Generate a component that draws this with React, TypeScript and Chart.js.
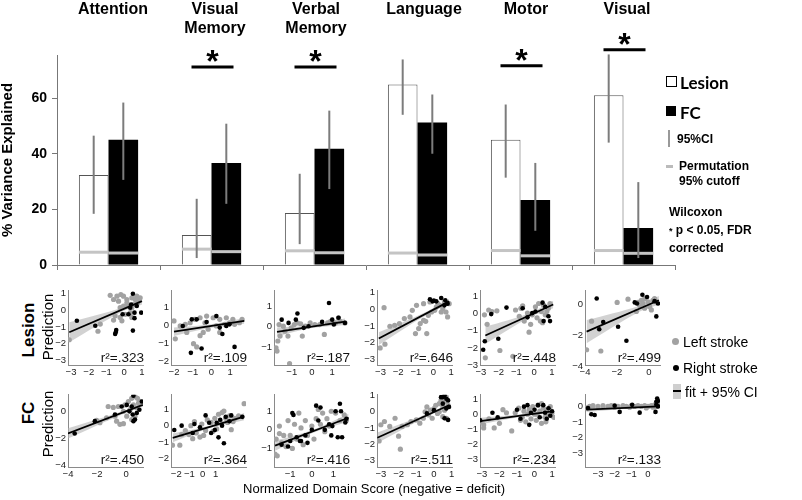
import React, { useEffect, useRef } from "react";
import { Chart, registerables } from "chart.js";
Chart.register(...registerables);

const FONT = "'Liberation Sans', Arial, Helvetica, sans-serif";

// ---------------- Top bar chart data ----------------
const domainLabels = ["Attention", "Visual Memory", "Verbal Memory", "Language", "Motor", "Visual"];
const domainTitleLines = [["Attention"], ["Visual", "Memory"], ["Verbal", "Memory"], ["Language"], ["Motor"], ["Visual"]];
const lesionVariance = [32.4, 10.8, 18.7, 64.9, 45.0, 61.0];
const fcVariance = [45.0, 36.7, 41.8, 51.2, 23.4, 13.3];
const lesionCILow = [18.4, 2.5, 7.5, 54.0, 31.4, 44.0];
const lesionCIHigh = [46.5, 23.8, 32.8, 73.9, 57.7, 75.7];
const fcCILow = [30.6, 22.0, 27.3, 40.0, 12.3, 2.5];
const fcCIHigh = [58.4, 50.8, 55.5, 61.3, 36.7, 29.8];
const lesionCutoff = [4.6, 5.7, 5.1, 4.3, 5.2, 5.2];
const fcCutoff = [4.3, 4.8, 4.4, 3.6, 3.3, 4.2];
const sigLevel = [null, 71.2, 71.2, null, 71.6, 77.4];
const yTicksTop = [0, 20, 40, 60];

// ---------------- Scatter data (Lesion row) ----------------
type P = [number, number];
const lesionAttentionLeft: P[] = [[-3.1,-1.77],[-1.35,-0.83],[-1.48,-1.26],[-0.79,0.9],[-0.6,0.65],[-0.41,0.85],[-0.19,0.95],[-0.04,0.85],[-0.32,0.55],[0.15,0.65],[0.43,0.75],[0.62,0.65],[0.71,0.85],[0.81,0.7],[0.24,0.26],[0.43,0.16],[0.53,0.35],[-0.23,0.16],[-0.04,0.26],[-0.51,-0.33],[-0.23,-0.43],[0.06,-0.24],[0.34,-0.14],[-0.13,-0.63],[0.43,-0.43],[-0.6,-0.59],[0.15,0.45],[0.75,0.45],[0.9,0.75]];
const lesionAttentionRight: P[] = [[-2.67,-0.63],[-1.63,-0.93],[-0.45,-1.18],[-0.51,-1.42],[-0.47,-1.3],[0.49,1.0],[0.34,0.16],[-0.09,-0.24],[0.24,-0.24],[0.58,-0.47],[0.49,-1.22],[0.96,-0.14],[0.58,-0.14],[0.39,0.35],[0.71,0.26]];
const lesionVisMemLeft: P[] = [[-2.0,0.24],[-1.93,-0.76],[-1.67,-0.04],[-1.4,0.05],[-1.14,0.14],[-0.88,0.33],[-0.61,0.42],[-0.26,0.51],[0.09,0.42],[0.44,0.33],[0.79,0.42],[1.14,0.33],[1.49,0.14],[1.63,0.33],[-0.96,-1.03],[-0.79,-1.21],[-0.61,-0.58],[-0.44,-0.4],[-0.18,-0.22],[0.26,-0.04],[0.44,-0.4],[0.7,0.05],[0.96,0.14],[-0.35,0.14],[-1.32,-0.4],[1.23,0.05]];
const lesionVisMemRight: P[] = [[-1.53,-0.04],[-0.79,0.33],[-1.1,-1.54],[-0.53,-1.3],[-0.26,0.18],[0.26,0.51],[0.44,-0.13],[0.58,-0.49],[0.79,-0.04],[1.23,-1.21],[0.96,0.05],[-1.05,0.33]];
const lesionVerbMemLeft: P[] = [[-1.78,-1.02],[-1.73,-1.18],[-1.69,-0.69],[-1.58,-0.45],[-1.63,0.11],[-1.42,0.03],[-1.19,-0.45],[-1.11,-1.79],[-0.88,0.11],[-0.72,0.19],[-0.56,0.15],[-0.48,-0.45],[-0.09,0.19],[0.14,0.11],[0.38,0.11],[0.61,-0.37],[0.77,0.19],[0.92,0.27],[1.16,0.19],[1.39,0.27],[1.63,0.19],[-0.33,0.03],[-1.34,-0.21],[1.31,0.44],[-1.03,-0.05]];
const lesionVerbMemRight: P[] = [[-1.5,0.35],[-1.16,0.19],[-0.72,0.65],[-0.8,0.35],[-0.41,-0.05],[0.5,0.24],[0.84,1.16],[1.0,0.35],[1.31,0.44],[1.63,0.19],[1.08,0.11],[-0.17,0.03]];
const lesionLanguageLeft: P[] = [[-3.02,-2.32],[-2.75,-2.1],[-2.8,0.1],[-2.47,-1.02],[-2.2,-0.96],[-1.93,-0.86],[-1.65,-0.56],[-1.33,-0.46],[-1.2,-0.06],[-0.96,0.24],[-0.84,-1.16],[-0.75,-0.86],[-0.56,-0.66],[-1.02,-1.46],[-0.38,-1.46],[-0.44,-0.72],[-0.29,-0.36],[-0.2,0.44],[0.16,0.14],[0.35,0.24],[0.53,0.04],[0.71,-0.16],[0.8,-0.46],[0.25,0.34],[0.62,0.44],[0.07,-0.06],[0.44,-0.16],[-0.11,-0.16],[-0.56,0.34],[0.89,0.34]];
const lesionLanguageRight: P[] = [[-0.2,0.6],[-0.05,0.48],[0.02,0.52],[0.44,0.68],[0.67,0.54],[0.8,0.34],[0.16,0.48],[0.62,0.24]];
const lesionMotorLeft: P[] = [[-2.8,-0.06],[-2.56,0.22],[-2.38,0.13],[-2.1,0.17],[-2.65,-0.62],[-2.75,-2.58],[-1.93,-2.15],[-1.2,-2.49],[-1.05,0.22],[-0.75,0.32],[-0.38,0.04],[-0.2,-0.62],[-0.29,-1.08],[-0.11,-0.06],[0.07,0.41],[0.25,0.6],[0.4,0.13],[0.53,0.5],[0.62,-0.06],[0.8,0.32],[0.89,0.6],[0.16,-0.24],[0.35,-0.43],[0.47,-0.52],[0.71,0.13],[-0.56,-0.43],[-0.84,-0.15],[-0.65,0.47]];
const lesionMotorRight: P[] = [[-2.78,-1.61],[-2.87,-2.11],[-2.42,-0.02],[-2.02,-1.46],[-1.56,0.36],[-0.65,0.32],[-0.38,-0.21],[-0.11,0.04],[0.07,0.13],[0.47,0.65],[0.62,0.41],[0.8,-0.15],[0.89,-0.43],[0.53,-0.43]];
const lesionVisualLeft: P[] = [[-3.9,-2.95],[-3.59,-1.09],[-3.01,-3.03],[-1.99,0.13],[-1.31,0.34],[-0.79,-0.46],[-0.68,0.13],[-0.48,0.27],[-0.27,0.38],[-0.06,0.17],[0.15,-0.36],[0.25,0.27],[0.35,0.38],[0.46,0.17],[-0.37,0.06],[0.04,-0.15],[-0.58,-0.08],[-0.27,-0.25]];
const lesionVisualRight: P[] = [[-3.27,0.38],[-2.86,-1.14],[-3.11,-1.62],[-1.93,-1.45],[-1.41,-2.36],[-0.89,0.13],[-0.75,0.06],[-0.41,0.63],[-0.12,0.48],[0.46,-0.78],[0.56,0.06],[0.35,0.21]];

// ---------------- Scatter data (FC row) ----------------
const fcAttentionLeft: P[] = [[-2.03,-0.68],[-1.8,-0.85],[-1.34,-0.48],[-0.76,-0.36],[-0.65,-0.73],[-0.42,-0.97],[-0.18,-0.92],[-1.23,0.36],[-0.88,0.29],[-0.53,0.36],[-0.07,0.48],[0.16,0.73],[0.39,0.97],[0.62,1.09],[0.51,0.48],[0.74,0.24],[0.86,0.61],[0.28,0.12],[0.05,-0.36],[0.39,-0.61],[0.62,-0.36],[0.97,0.73],[-0.18,0.0],[0.79,0.97]];
const fcAttentionRight: P[] = [[-3.54,-1.65],[-2.15,-0.73],[-0.76,-0.24],[-0.3,0.36],[0.05,0.48],[0.23,0.0],[0.46,-0.24],[0.62,-0.61],[0.74,-0.12],[0.92,0.12],[1.09,0.73],[0.51,1.16],[0.39,0.36],[0.51,-0.73]];
const fcVisMemLeft: P[] = [[-2.29,-1.2],[-1.73,-1.2],[-1.59,-0.55],[-1.31,-0.3],[-1.03,-0.55],[-0.75,-0.8],[-0.62,0.25],[-0.48,-0.45],[-0.2,-0.7],[-0.06,0.1],[0.23,-0.3],[0.36,0.35],[0.65,0.2],[0.79,-0.35],[0.93,0.45],[1.07,-0.2],[1.21,0.7],[1.34,0.25],[1.48,0.8],[1.76,0.45],[1.9,0.2],[2.04,0.6],[2.18,-0.25],[2.32,0.25],[2.46,0.45],[2.74,0.6],[3.16,1.35],[-0.89,0.0],[1.62,0.9],[0.08,-0.6]];
const fcVisMemRight: P[] = [[-2.15,-0.27],[-1.59,0.0],[-0.75,-0.45],[-0.62,0.1],[-0.2,-0.1],[0.23,0.63],[0.5,0.18],[0.65,-0.45],[0.93,-0.27],[1.07,0.18],[1.34,0.36],[1.48,0.0],[1.62,-1.08],[1.76,0.54],[2.04,0.27],[2.18,0.63],[3.02,0.54],[1.21,-0.72]];
const fcVerbMemLeft: P[] = [[-1.7,-1.3],[-1.6,-1.4],[-1.65,-0.5],[-1.5,-0.2],[-1.5,0.2],[-1.3,-0.3],[-1.2,-0.9],[-1.1,0.5],[-1.0,-0.3],[-0.9,-1.0],[-0.8,0.3],[-0.7,-0.5],[-0.5,0.1],[-0.4,-0.8],[-0.3,0.5],[-0.2,-0.3],[0.0,0.2],[0.1,-0.5],[0.2,0.6],[0.3,1.1],[0.4,0.3],[0.5,0.9],[0.7,0.6],[0.8,0.2],[0.9,1.0],[1.1,0.9],[1.3,0.5],[1.5,0.8],[1.6,0.5],[-0.6,0.9],[-1.4,-0.7],[0.6,-0.1]];
const fcVerbMemRight: P[] = [[-1.4,-0.8],[-1.1,-0.9],[-1.0,-0.6],[-0.9,0.9],[-0.85,0.8],[-0.7,-0.4],[-0.55,-0.6],[-0.5,-0.6],[-0.3,-0.3],[0.0,0.0],[0.2,1.3],[0.3,0.5],[0.4,1.2],[0.6,0.0],[0.8,0.3],[0.95,0.2],[1.1,1.0],[1.2,-0.4],[1.3,1.4],[1.35,1.0],[1.4,-0.4],[1.55,0.4],[1.6,0.6],[0.9,-0.3],[-0.2,-0.7]];
const fcLanguageLeft: P[] = [[-3.1,-1.8],[-3.0,-0.8],[-2.8,-0.6],[-2.5,-0.9],[-2.2,-0.4],[-2.0,-1.5],[-1.9,-2.3],[-1.8,-0.9],[-1.5,-0.8],[-1.3,-0.6],[-1.0,-0.5],[-0.8,-0.7],[-0.6,-0.4],[-0.5,0.0],[-0.4,0.3],[-0.3,-0.2],[-0.2,0.1],[0.0,0.2],[0.1,0.4],[0.2,-0.1],[0.3,0.5],[0.4,0.7],[0.5,0.3],[0.6,0.6],[0.7,0.9],[0.8,0.4],[0.5,-0.3],[0.3,0.0],[0.7,-0.4],[-0.1,-0.4],[0.6,0.1]];
const fcLanguageRight: P[] = [[-0.4,-0.1],[0.0,0.1],[0.4,0.9],[0.5,0.5],[0.6,1.0],[0.7,0.8],[0.8,0.7],[0.85,0.3],[0.6,-0.4],[0.8,-0.5],[0.7,0.2],[0.5,0.9]];
const fcMotorLeft: P[] = [[-3.1,-0.5],[-2.9,-0.9],[-2.9,-0.7],[-2.6,-0.3],[-2.3,-0.9],[-2.0,-0.6],[-1.8,0.3],[-1.6,0.1],[-1.3,-1.1],[-1.1,0.1],[-0.9,0.4],[-0.7,-0.2],[-0.6,0.2],[-0.5,-0.5],[-0.4,0.0],[-0.3,0.3],[-0.2,-0.3],[-0.1,0.5],[0.0,0.0],[0.1,-0.4],[0.2,0.6],[0.3,0.2],[0.4,-0.6],[0.5,0.4],[0.6,-0.2],[0.7,0.3],[0.8,0.0],[0.9,0.5],[1.0,0.1],[1.1,-0.2],[0.4,0.7],[-0.8,-0.4],[0.15,0.0],[0.65,-0.5]];
const fcMotorRight: P[] = [[-3.1,-0.4],[-2.4,0.1],[-2.1,-0.2],[-1.0,0.3],[-0.8,-0.3],[-0.6,0.5],[-0.4,0.6],[-0.3,-0.7],[0.0,0.3],[0.2,0.6],[0.3,-0.2],[0.5,0.6],[0.6,0.1],[0.7,-0.3],[0.8,0.4],[1.0,0.2],[-0.2,0.1],[0.9,-0.1]];
const fcVisualLeft: P[] = [[-3.7,-0.1],[-3.5,0.0],[-3.3,0.05],[-3.0,0.0],[-2.7,0.05],[-2.4,0.0],[-2.2,0.05],[-1.8,0.0],[-1.5,0.05],[-1.3,0.0],[-1.0,0.05],[-0.8,0.0],[-0.6,0.05],[-0.4,0.0],[-0.2,0.05],[0.0,0.0],[0.2,0.05],[0.4,0.1],[0.5,0.0],[0.6,0.1],[-0.1,-0.1],[0.3,-0.05],[-2.0,-0.05],[-1.1,-0.05]];
const fcVisualRight: P[] = [[-3.6,-0.1],[-3.4,-0.5],[-3.2,-0.55],[-2.0,0.05],[-1.7,-0.35],[-0.95,0.1],[-0.5,-0.4],[0.45,-0.35],[0.5,0.3],[0.55,0.5],[0.6,0.35],[0.5,0.1],[0.6,0.0]];

// fit lines (endpoints) and CI half-widths [left, middle, right]
const lesionFitX = [[-3.1, 1.0], [-2.0, 1.75], [-1.73, 1.63], [-3.1, 0.89], [-2.75, 1.07], [-3.9, 0.62]];
const lesionFitY = [[-1.32, 0.55], [-0.36, 0.24], [-0.25, 0.25], [-1.76, 0.48], [-1.27, 0.54], [-1.77, 0.27]];
const lesionBandMidX = [-0.1, -0.1, 0.0, -0.4, -0.2, -0.6];
const lesionBandHalf = [[0.6, 0.12, 0.22], [0.24, 0.1, 0.16], [0.22, 0.07, 0.16], [0.38, 0.1, 0.16], [0.5, 0.12, 0.22], [0.75, 0.2, 0.28]];
const lesionR2 = [".323", ".109", ".187", ".646", ".448", ".499"];

const fcFitX = [[-4.0, 1.16], [-2.27, 3.16], [-1.7, 1.7], [-3.2, 0.85], [-3.1, 1.1], [-3.7, 0.65]];
const fcFitY = [[-1.65, 0.48], [-0.75, 0.55], [-0.85, 0.65], [-1.6, 0.4], [-0.45, 0.2], [-0.2, 0.0]];
const fcBandMidX = [0.0, 0.5, 0.0, -0.3, -0.3, -0.8];
const fcBandHalf = [[0.38, 0.1, 0.16], [0.27, 0.08, 0.22], [0.27, 0.08, 0.22], [0.32, 0.08, 0.13], [0.22, 0.07, 0.13], [0.16, 0.05, 0.1]];
const fcR2 = [".450", ".364", ".416", ".511", ".234", ".133"];

// axis ranges and tick values per panel
const lesionXRange = [[-3.17, 1.06], [-2.16, 1.84], [-1.88, 1.83], [-3.2, 1.05], [-3.05, 1.17], [-4.0, 0.69]];
const lesionYRange = [[-3.29, 1.18], [-2.22, 1.93], [-1.86, 1.76], [-3.35, 1.12], [-3.0, 1.35], [-3.94, 0.89]];
const lesionXTicks = [[-3, -2, -1, 0, 1], [-2, -1, 0, 1], [-1, 0, 1], [-3, -2, -1, 0, 1], [-3, -2, -1, 0, 1], [-4, -2, 0]];
const lesionYTicks = [[-3, -2, -1, 0, 1], [-2, -1, 0, 1], [-1, 0, 1], [-3, -2, -1, 0, 1], [-3, -2, -1, 0, 1], [-4, -2, 0]];
const fcXRange = [[-4.0, 1.17], [-2.4, 3.3], [-1.75, 1.72], [-3.22, 1.02], [-3.11, 1.17], [-3.78, 0.72]];
const fcYRange = [[-4.15, 1.24], [-2.54, 1.9], [-2.0, 1.89], [-3.4, 1.05], [-3.48, 1.29], [-3.88, 0.75]];
const fcXTicks = [[-4, -2, 0], [-2, -1, 0, 1], [-1, 0, 1], [-3, -2, -1, 0, 1], [-3, -2, -1, 0, 1], [-3, -2, -1, 0]];
const fcYTicks = [[-4, -2, 0], [-2, -1, 0, 1], [-1, 0, 1], [-3, -2, -1, 0, 1], [-3, -2, -1, 0, 1], [-3, -2, -1, 0]];

const lesionLeftSets = [lesionAttentionLeft, lesionVisMemLeft, lesionVerbMemLeft, lesionLanguageLeft, lesionMotorLeft, lesionVisualLeft];
const lesionRightSets = [lesionAttentionRight, lesionVisMemRight, lesionVerbMemRight, lesionLanguageRight, lesionMotorRight, lesionVisualRight];
const fcLeftSets = [fcAttentionLeft, fcVisMemLeft, fcVerbMemLeft, fcLanguageLeft, fcMotorLeft, fcVisualLeft];
const fcRightSets = [fcAttentionRight, fcVisMemRight, fcVerbMemRight, fcLanguageRight, fcMotorRight, fcVisualRight];

// layout (pixels)
const colLeft = [68, 171, 274, 377, 480, 585];
const plotW = 75;
const rowTop = [289, 393];
const rowH = [76, 74];

const GRAY_PT = "#a2a2a2";
const minus = (v: number) => (v < 0 ? "\u2212" + Math.abs(v) : String(v));

function BarChart() {
  const ref = useRef<HTMLCanvasElement>(null);
  useEffect(() => {
    const overlay = {
      id: "overlay",
      afterDatasetsDraw(chart: any) {
        const ctx = chart.ctx;
        const ys = chart.scales.y;
        const m0 = chart.getDatasetMeta(0);
        const m1 = chart.getDatasetMeta(1);
        ctx.save();
        for (let i = 0; i < domainLabels.length; i++) {
          const b0 = m0.data[i];
          const b1 = m1.data[i];
          ctx.strokeStyle = "#c4c4c4";
          ctx.lineWidth = 3;
          [[b0, lesionCutoff[i]], [b1, fcCutoff[i]]].forEach(([b, c]: any) => {
            const yy = ys.getPixelForValue(c);
            ctx.beginPath();
            ctx.moveTo(b.x - b.width / 2, yy);
            ctx.lineTo(b.x + b.width / 2, yy);
            ctx.stroke();
          });
          ctx.strokeStyle = "#7c7c7c";
          ctx.lineWidth = 2;
          [[b0, lesionCILow[i], lesionCIHigh[i]], [b1, fcCILow[i], fcCIHigh[i]]].forEach(([b, lo, hi]: any) => {
            ctx.beginPath();
            ctx.moveTo(b.x, ys.getPixelForValue(lo));
            ctx.lineTo(b.x, ys.getPixelForValue(hi));
            ctx.stroke();
          });
          const s = sigLevel[i];
          if (s != null) {
            const cx = (b0.x + b1.x) / 2 + 1;
            const yy = ys.getPixelForValue(s);
            ctx.strokeStyle = "#000";
            ctx.lineWidth = 3;
            ctx.beginPath();
            ctx.moveTo(cx - 21, yy);
            ctx.lineTo(cx + 21, yy);
            ctx.stroke();
            ctx.fillStyle = "#000";
            ctx.font = `bold 32px ${FONT}`;
            ctx.textAlign = "center";
            ctx.textBaseline = "alphabetic";
            ctx.fillText("*", cx, yy + 5);
          }
        }
        ctx.restore();
      },
    };
    const chart = new Chart(ref.current as HTMLCanvasElement, {
      type: "bar",
      data: {
        labels: domainLabels,
        datasets: [
          { label: "Lesion", data: lesionVariance, backgroundColor: "#ffffff", borderColor: "#555", borderWidth: 1 },
          { label: "FC", data: fcVariance, backgroundColor: "#000000", borderColor: "#000", borderWidth: 0 },
        ],
      },
      options: {
        animation: false,
        responsive: false,
        layout: { padding: { left: 0, right: 127, top: 55, bottom: 0 } },
        plugins: { legend: { display: false }, tooltip: { enabled: false } },
        datasets: { bar: { categoryPercentage: 0.575, barPercentage: 1 } },
        scales: {
          x: {
            grid: { display: true, drawOnChartArea: false, tickLength: 5, color: "#777", offset: true },
            border: { color: "#777", width: 1 },
            ticks: { display: false },
            afterFit(s: any) { s.height = 15; },
          },
          y: {
            min: 0,
            max: 75.5,
            afterBuildTicks(s: any) { s.ticks = yTicksTop.map((v) => ({ value: v })); },
            grid: { display: true, drawOnChartArea: false, tickLength: 5, color: "#777" },
            border: { color: "#777", width: 1 },
            ticks: { font: { family: FONT, size: 14, weight: "bold" }, color: "#000", padding: 5 },
            title: { display: true, text: "% Variance Explained", font: { family: FONT, size: 15, weight: "bold", lineHeight: 1 }, color: "#000", padding: 0 },
            afterFit(s: any) { s.width = 57; },
          },
        },
      } as any,
      plugins: [overlay],
    } as any);
    return () => chart.destroy();
  }, []);
  return <canvas ref={ref} width={802} height={280} style={{ position: "absolute", left: 0, top: 0, width: 802, height: 280 }} />;
}

function ScatterPanel(props: { row: number; col: number }) {
  const { row, col } = props;
  const ref = useRef<HTMLCanvasElement>(null);
  const padL = 24, padT = 6, padR = 12, padB = 16;
  const left = colLeft[col], top = rowTop[row], h = rowH[row];
  const cw = plotW + padL + padR, ch = h + padT + padB;
  useEffect(() => {
    const isL = row === 0;
    const leftPts = (isL ? lesionLeftSets : fcLeftSets)[col];
    const rightPts = (isL ? lesionRightSets : fcRightSets)[col];
    const fx = (isL ? lesionFitX : fcFitX)[col];
    const fy = (isL ? lesionFitY : fcFitY)[col];
    const mx = (isL ? lesionBandMidX : fcBandMidX)[col];
    const hw = (isL ? lesionBandHalf : fcBandHalf)[col];
    const r2 = (isL ? lesionR2 : fcR2)[col];
    const xr = (isL ? lesionXRange : fcXRange)[col];
    const yr = (isL ? lesionYRange : fcYRange)[col];
    const xt = (isL ? lesionXTicks : fcXTicks)[col];
    const yt = (isL ? lesionYTicks : fcYTicks)[col];
    const onFit = (x: number) => fy[0] + ((x - fx[0]) * (fy[1] - fy[0])) / (fx[1] - fx[0]);
    const bx = [fx[0], mx, fx[1]];
    const upper = bx.map((x, k) => ({ x, y: onFit(x) + hw[k] }));
    const lower = bx.map((x, k) => ({ x, y: onFit(x) - hw[k] }));
    const r2Plugin = {
      id: "r2",
      afterDraw(chart: any) {
        const { ctx, chartArea } = chart;
        ctx.save();
        ctx.font = `13.5px ${FONT}`;
        ctx.fillStyle = "#111";
        ctx.textAlign = "right";
        ctx.textBaseline = "alphabetic";
        ctx.fillText(`r\u00b2=${r2}`, chartArea.right + 1, chartArea.bottom - 3);
        ctx.restore();
      },
    };
    const tickFont = { family: FONT, size: 9.5 };
    const chart = new Chart(ref.current as HTMLCanvasElement, {
      type: "scatter",
      data: {
        datasets: [
          { data: fx.map((x, k) => ({ x, y: fy[k] })), showLine: true, borderColor: "#000", borderWidth: 1.8, pointRadius: 0 },
          { data: rightPts.map(([x, y]) => ({ x, y })), backgroundColor: "#000", borderWidth: 0, pointRadius: 2.3 },
          { data: leftPts.map(([x, y]) => ({ x, y })), backgroundColor: GRAY_PT, borderWidth: 0, pointRadius: 2.6 },
          { data: upper, showLine: true, borderWidth: 0, pointRadius: 0, fill: false, tension: 0.35 },
          { data: lower, showLine: true, borderWidth: 0, pointRadius: 0, fill: "-1", backgroundColor: "rgba(180,180,180,0.6)", tension: 0.35 },
        ],
      },
      options: {
        animation: false,
        responsive: false,
        layout: { padding: { left: 0, top: padT, right: padR, bottom: 0 } },
        plugins: { legend: { display: false }, tooltip: { enabled: false } },
        scales: {
          x: {
            type: "linear",
            min: xr[0],
            max: xr[1],
            afterBuildTicks(s: any) { s.ticks = xt.map((v) => ({ value: v })); },
            grid: { display: false, drawTicks: false },
            border: { display: true, color: "#8a8a8a", width: 1 },
            ticks: { font: tickFont, color: "#222", padding: 2, autoSkip: false, maxRotation: 0, callback: (v: any) => minus(Number(v)) },
            afterFit(s: any) { s.height = padB; },
          },
          y: {
            type: "linear",
            min: yr[0],
            max: yr[1],
            afterBuildTicks(s: any) { s.ticks = yt.map((v) => ({ value: v })); },
            grid: { display: false, drawTicks: false },
            border: { display: true, color: "#8a8a8a", width: 1 },
            ticks: { font: tickFont, color: "#222", padding: 2, autoSkip: false, callback: (v: any) => minus(Number(v)) },
            afterFit(s: any) { s.width = padL; },
          },
        },
      } as any,
      plugins: [r2Plugin],
    } as any);
    return () => chart.destroy();
  }, []);
  return (
    <canvas ref={ref} width={cw} height={ch}
      style={{ position: "absolute", left: left - padL, top: top - padT, width: cw, height: ch }} />
  );
}

function Txt(props: { x: number; y: number; children: any; size: number; bold?: boolean; family?: string; align?: "left" | "center"; rotate?: boolean }) {
  const { x, y, size, bold, family, align, rotate } = props;
  const tx = rotate ? "translate(-50%,-50%) rotate(-90deg)" : align === "center" ? "translate(-50%,-50%)" : "translateY(-50%)";
  return (
    <div style={{ position: "absolute", left: x, top: y, transform: tx, whiteSpace: "nowrap", fontSize: size, fontWeight: bold ? 700 : 400, fontFamily: family || FONT, lineHeight: 1, color: "#000" }}>
      {props.children}
    </div>
  );
}

export default function App() {
  const titleX = [113, 215, 316, 424, 526, 627];
  return (
    <div style={{ position: "fixed", left: 0, top: 0, width: 802, height: 500, background: "#fff", overflow: "hidden", fontFamily: FONT }}>
      <BarChart />
      {domainTitleLines.map((lines, i) => (
        <div key={i} style={{ position: "absolute", left: titleX[i], top: -1, transform: "translateX(-50%)", textAlign: "center", fontSize: 16, fontWeight: 700, lineHeight: "19px", whiteSpace: "nowrap", fontFamily: FONT }}>
          {lines.map((l, k) => (<div key={k}>{l}</div>))}
        </div>
      ))}
      {/* bar legend */}
      <div style={{ position: "absolute", left: 666, top: 76, width: 9, height: 9, border: "1px solid #000", background: "#fff" }} />
      <Txt x={680} y={82} size={17} bold family="Lato, 'Liberation Sans', sans-serif">Lesion</Txt>
      <div style={{ position: "absolute", left: 666, top: 106, width: 10, height: 10, background: "#000" }} />
      <Txt x={680} y={112} size={17} bold family="Lato, 'Liberation Sans', sans-serif">FC</Txt>
      <div style={{ position: "absolute", left: 668, top: 130, width: 2, height: 17, background: "#999" }} />
      <Txt x={677} y={139} size={12} bold>95%CI</Txt>
      <div style={{ position: "absolute", left: 666, top: 165, width: 7, height: 3, background: "#bbb" }} />
      <Txt x={679} y={166} size={12} bold>Permutation</Txt>
      <Txt x={679} y={181} size={12} bold>95% cutoff</Txt>
      <Txt x={669} y={212} size={12} bold>Wilcoxon</Txt>
      <Txt x={669} y={230} size={12} bold><span style={{ fontSize: 9 }}>*</span> p &lt; 0.05, FDR</Txt>
      <Txt x={669} y={248} size={12} bold>corrected</Txt>

      {[0, 1].map((r) => [0, 1, 2, 3, 4, 5].map((c) => <ScatterPanel key={`${r}-${c}`} row={r} col={c} />))}

      <Txt x={28} y={330} size={17} bold rotate>Lesion</Txt>
      <Txt x={47} y={327} size={15} rotate>Prediction</Txt>
      <Txt x={28} y={413} size={17} bold rotate>FC</Txt>
      <Txt x={47} y={424} size={15} rotate>Prediction</Txt>

      {/* scatter legend */}
      <div style={{ position: "absolute", left: 672, top: 338, width: 7, height: 7, borderRadius: 4, background: GRAY_PT }} />
      <Txt x={683} y={342} size={14}>Left stroke</Txt>
      <div style={{ position: "absolute", left: 673, top: 365, width: 6, height: 6, borderRadius: 3, background: "#000" }} />
      <Txt x={683} y={368} size={14}>Right stroke</Txt>
      <div style={{ position: "absolute", left: 673, top: 384, width: 8, height: 15, background: "#cfcfcf" }} />
      <div style={{ position: "absolute", left: 673, top: 390, width: 8, height: 2, background: "#000" }} />
      <Txt x={685} y={392} size={14}>fit + 95% CI</Txt>

      <Txt x={374} y={488} size={13} align="center">Normalized Domain Score (negative = deficit)</Txt>
    </div>
  );
}
